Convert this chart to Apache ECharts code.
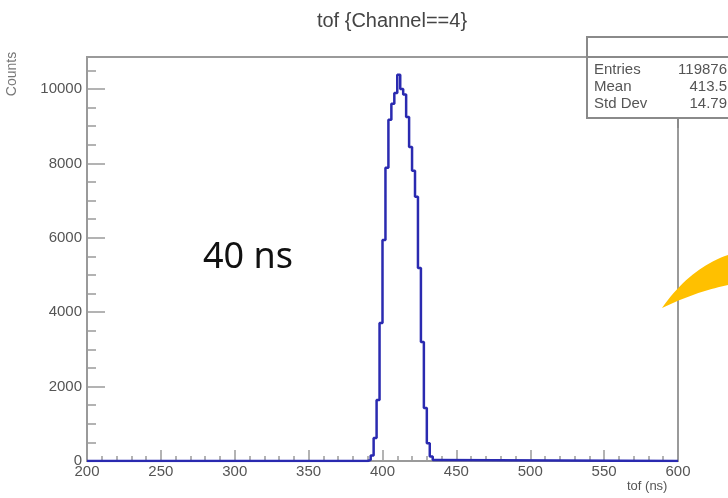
<!DOCTYPE html>
<html>
<head>
<meta charset="utf-8">
<script src="https://cdn.jsdelivr.net/npm/echarts@6/dist/echarts.min.js"></script>
<style>html,body{margin:0;padding:0;background:#fff}#c{width:728px;height:498px}</style>
</head>
<body>
<div id="c"></div>
<script>
// Histogram: 2 ns bins, left edges and counts
var binWidth = 2;
var binEdges = [390, 392, 394, 396, 398, 400, 402, 404, 406, 408, 410, 412, 414, 416, 418, 420, 422, 424, 426, 428, 430, 432, 434, 436];
var counts   = [30, 150, 620, 1640, 3710, 5940, 7880, 9170, 9600, 9890, 10380, 10000, 9850, 9250, 8440, 7800, 7100, 5190, 3200, 1425, 480, 120, 30, 0];
var xTicks = [200, 250, 300, 350, 400, 450, 500, 550, 600];
var yTicks = [0, 2000, 4000, 6000, 8000, 10000];
var statsLabels = ["Entries", "Mean", "Std Dev"];
var statsValues = ["119876", "413.5", "14.79"];

var data = [[200, 0]];
for (var i = 0; i < binEdges.length; i++) data.push([binEdges[i], counts[i]]);
data.push([600, 0]);

// decorative orange arrow tail (quadratic outline sampled into a polygon)
function quad(p0, c, p1, n) {
  var pts = [];
  for (var j = 0; j <= n; j++) {
    var t = j / n, u = 1 - t;
    pts.push([u*u*p0[0] + 2*u*t*c[0] + t*t*p1[0], u*u*p0[1] + 2*u*t*c[1] + t*t*p1[1]]);
  }
  return pts;
}
var arrowPts = quad([662, 308], [690, 268], [728, 255], 20).concat(quad([728, 285], [695, 292], [662, 308], 20));

var chart = echarts.init(document.getElementById('c'), null, {renderer: 'canvas'});
var axisGrey = '#9a9a9a';
var labelColor = '#555';
var fontFam = '"Liberation Sans", Arial, sans-serif';

var graphics = [
  {type: 'text', x: 392, y: 21, style: {text: 'tof {Channel==4}', font: '20px ' + fontFam, fill: '#444', textAlign: 'center', textVerticalAlign: 'middle'}},
  {type: 'text', x: 627, y: 480, style: {text: 'tof (ns)', font: '13px ' + fontFam, fill: labelColor}},
  {type: 'text', x: 12, y: 74, rotation: Math.PI / 2, style: {text: 'Counts', font: '14px ' + fontFam, fill: '#777', textAlign: 'center', textVerticalAlign: 'middle'}},
  {type: 'text', x: 203, y: 240, style: {text: '40 ns', font: '36px "Noto Sans", sans-serif', fill: '#111'}},
  {type: 'rect', shape: {x: 587, y: 37, width: 160, height: 81}, style: {fill: '#fff', stroke: '#8a8a8a', lineWidth: 2}, z: 100},
  {type: 'line', shape: {x1: 587, y1: 57, x2: 728, y2: 57}, style: {stroke: '#8a8a8a', lineWidth: 2}, z: 101},
  {type: 'line', shape: {x1: 678, y1: 118, x2: 678, y2: 128}, style: {stroke: '#8a8a8a', lineWidth: 2}, z: 101},
  {type: 'polygon', shape: {points: arrowPts}, style: {fill: '#FFC000'}, z: 102}
];
var rowY = [70, 87, 104];
for (var k = 0; k < statsLabels.length; k++) {
  graphics.push({type: 'text', x: 594, y: rowY[k], z: 102, style: {text: statsLabels[k], font: '15px ' + fontFam, fill: '#555', textVerticalAlign: 'middle'}});
  graphics.push({type: 'text', x: 727, y: rowY[k], z: 102, style: {text: statsValues[k], font: '15px ' + fontFam, fill: '#555', textAlign: 'right', textVerticalAlign: 'middle'}});
}

chart.setOption({
  animation: false,
  backgroundColor: '#fff',
  grid: {left: 87, right: 50, top: 57, bottom: 37, show: true, borderColor: axisGrey, borderWidth: 2, backgroundColor: 'transparent'},
  xAxis: {
    type: 'value', min: xTicks[0], max: xTicks[xTicks.length - 1], interval: 50,
    axisLine: {show: true, onZero: false, lineStyle: {color: axisGrey, width: 2}},
    axisTick: {show: true, inside: true, length: 11, lineStyle: {color: axisGrey, width: 1.5}},
    minorTick: {show: true, splitNumber: 5, length: 5, lineStyle: {color: axisGrey, width: 1.5}},
    splitLine: {show: false},
    axisLabel: {color: labelColor, fontSize: 15, fontFamily: fontFam, margin: 3, formatter: function (v) { return String(v); }}
  },
  yAxis: {
    type: 'value', min: yTicks[0], max: 10860, interval: 2000,
    axisLine: {show: true, lineStyle: {color: axisGrey, width: 2}},
    axisTick: {show: true, inside: true, length: 18, lineStyle: {color: axisGrey, width: 1.5}},
    minorTick: {show: true, splitNumber: 4, length: 9, lineStyle: {color: axisGrey, width: 1.5}},
    splitLine: {show: false},
    axisLabel: {color: labelColor, fontSize: 15, fontFamily: fontFam, margin: 5, showMaxLabel: false, formatter: function (v) { return String(v); }}
  },
  series: [{
    type: 'line', step: 'end', data: data, symbol: 'none',
    lineStyle: {color: '#2a2ab0', width: 2.5}, z: 10
  }],
  graphic: graphics
});
</script>
</body>
</html>
